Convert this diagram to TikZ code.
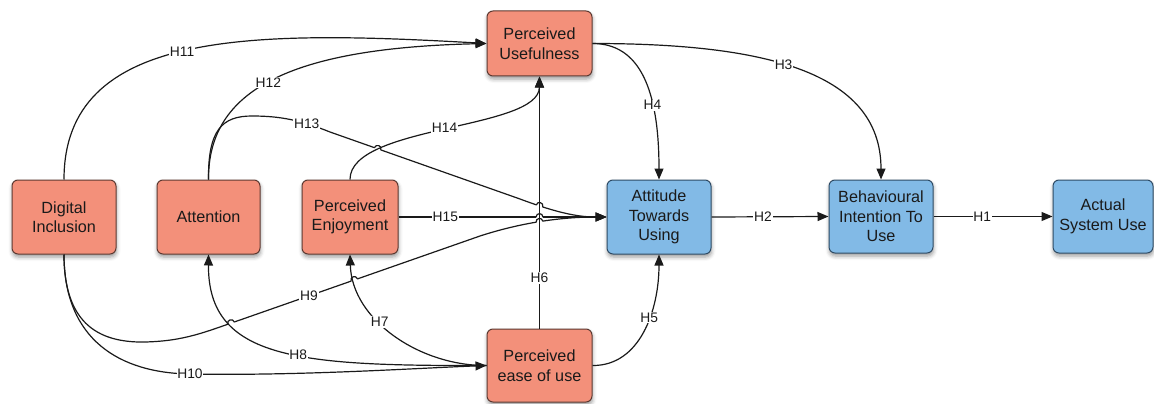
\documentclass[tikz,border=0pt]{standalone}
\usepackage{fontspec}
\setmainfont{Liberation Sans}
\usetikzlibrary{arrows.meta,shadows.blur,intersections,calc}

\definecolor{salmon}{HTML}{F3907A}
\definecolor{salmonline}{HTML}{5E3A32}
\definecolor{sky}{HTML}{82BAE6}
\definecolor{skyline}{HTML}{2F4C66}
\definecolor{ink}{HTML}{1A1A1A}

\tikzset{
  nodebox/.style={rounded corners=6pt, line width=1pt, align=center,
    minimum width=104pt, minimum height=74pt, inner sep=2pt,
    font=\fontsize{16.2}{19.5}\selectfont, text=ink,
    blur shadow={shadow xshift=0.5pt, shadow yshift=-3pt,
      shadow blur radius=4pt, shadow opacity=40}},
  redbox/.style={nodebox, fill=salmon, draw=salmonline},
  bluebox/.style={nodebox, fill=sky, draw=skyline},
  link/.style={draw=ink, line width=1.2pt},
  arr/.style={link, -{Triangle[length=11pt,width=9pt]}},
  lab/.style={fill=white, inner sep=0.8pt, font=\fontsize{13.8}{16}\selectfont, text=ink},
}

% paths that other connectors jump over
\newcommand\pathSix{(peou.north) -- (pu.south)}
\newcommand\pathSeven{(peou.west) .. controls (420,366) and (352,320) .. (pe.south)}
\newcommand\pathEight{(peou.west) .. controls (300,366) and (208,360) .. (att.south)}
\newcommand\pathFourteen{(pe.north) .. controls (350,125) and (539,130) .. (pu.south)}

% small line jump at a crossing #1, running at angle #2
\newcommand\hop[2]{\draw[link] ($(#1)+({-3.4*cos(#2)},{-3.4*sin(#2)})$)
  .. controls +({4.5*sin(#2)},{-4.5*cos(#2)}) and +({4.5*sin(#2)},{-4.5*cos(#2)})
  .. ($(#1)+({3.4*cos(#2)},{3.4*sin(#2)})$);}

\begin{document}
\begin{tikzpicture}[x=1pt,y=-1pt]
\useasboundingbox (0,0) rectangle (1154,404);

% constructs
\node[redbox] (di) at (64,217) {Digital\\Inclusion};
\node[redbox, minimum width=103pt] (att) at (208.5,217) {Attention};
\node[redbox, minimum width=96pt] (pe) at (350,217) {Perceived\\Enjoyment};
\node[redbox, minimum width=105pt, minimum height=65pt] (pu) at (539.5,43.5) {Perceived\\Usefulness};
\node[redbox, minimum width=105pt, minimum height=73pt] (peou) at (539.5,365.5) {Perceived\\ease of use};
\node[bluebox] (atu) at (659,217) {Attitude\\Towards\\Using};
\node[bluebox, minimum height=73pt] (bi) at (881,216.5) {Behavioural\\Intention To\\Use};
\node[bluebox, minimum width=100pt, minimum height=73pt] (asu) at (1103,216.5) {Actual\\System Use};

% hypotheses
\draw[arr] (di.north) .. controls (64,30) and (250,30) .. (pu.west) node[lab,pos=0.49]{H11};
\draw[arr] (att.north) .. controls (208,90) and (290,48) .. (pu.west) node[lab,pos=0.48]{H12};
\draw[arr, name path=h13] (att.north) .. controls (208,130) and (222,116) .. (252,116)
  .. controls (280,116) and (300,120) .. (330,132) node[lab,pos=0.72]{H13}
  -- (520,199) .. controls (560,214) and (580,217) .. (atu.west);
\draw[arr, name path=h15] (pe.east) -- (atu.west) node[lab,pos=0.225]{H15};
\draw[arr, name path=h9] (di.south) .. controls (64,320) and (95,343) .. (145,342)
  .. controls (185,341) and (205,332) .. (240,320)
  -- (480,236) node[lab,pos=0.2875]{H9}
  .. controls (520,223) and (560,217) .. (atu.west);
\draw[arr] (di.south) .. controls (64,340) and (120,373) .. (190,374) node[lab]{H10}
  .. controls (300,376) and (420,368) .. (peou.west);

\path[name path=h6] \pathSix;
\path[name path=h7] \pathSeven;
\path[name path=h8] \pathEight;
\path[name path=h14] \pathFourteen;
\path[name intersections={of=h13 and h14, by=x1}];
\path[name intersections={of=h13 and h6, by=x2}];
\path[name intersections={of=h15 and h6, by=x3}];
\path[name intersections={of=h9 and h6, by=x4}];
\path[name intersections={of=h9 and h8, by=x5}];
\path[name intersections={of=h9 and h7, by=x6}];
\foreach \p in {x1,x2,x3,x4,x5,x6} \fill[white] (\p) circle[radius=3.4pt];

\draw[arr] \pathFourteen node[lab,pos=0.5]{H14};
\draw[arr] \pathSix node[lab,pos=0.2]{H6};
\draw[arr] \pathEight node[lab,pos=0.43]{H8};
\draw[arr] \pathSeven node[lab,pos=0.6]{H7};

\hop{x1}{19}
\hop{x2}{15}
\hop{x3}{0}
\hop{x4}{-9.5}
\hop{x5}{-19}
\hop{x6}{-19}

\draw[arr] (peou.east) .. controls (640,366) and (659,310) .. (atu.south) node[lab,pos=0.6]{H5};
\draw[arr] (pu.east) .. controls (640,43.5) and (659,90) .. (atu.north) node[lab,pos=0.67]{H4};
\draw[arr] (pu.east) .. controls (760,43.5) and (881,70) .. (bi.north) node[lab,pos=0.45]{H3};
\draw[arr] (atu.east) -- (bi.west) node[lab,pos=0.44]{H2};
\draw[arr] (bi.east) -- (asu.west) node[lab,pos=0.41]{H1};
\end{tikzpicture}
\end{document}
